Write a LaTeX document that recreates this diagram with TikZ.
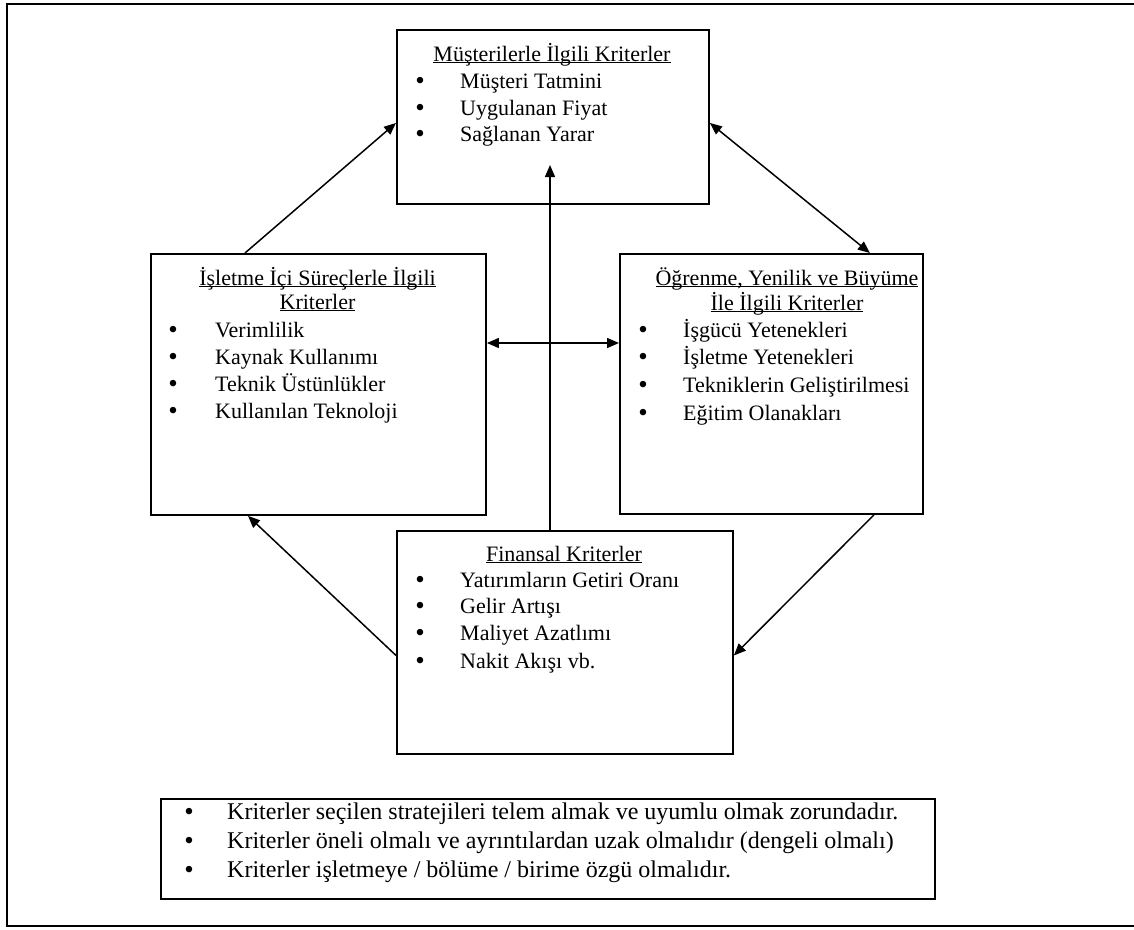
\documentclass[tikz,border=0pt]{standalone}
\usepackage{fontspec}
\setmainfont{Liberation Serif}
\usetikzlibrary{arrows.meta,calc}
\newcommand\myul[1]{\setbox0\hbox{#1}\rlap{\rule[-2.4pt]{\wd0}{1.1pt}}\box0}
\tikzset{
  box/.style={draw, line width=1.9pt, inner sep=0pt, anchor=north west},
  frame/.style={draw, line width=2.4pt},
  arr/.style={line width=1.5pt, -{Triangle[length=12pt,width=10pt]}},
  arrb/.style={line width=1.5pt, {Triangle[length=12pt,width=10pt]}-{Triangle[length=12pt,width=10pt]}},
  txt/.style={anchor=base west, inner sep=0pt, font=\fontsize{22}{26}\selectfont},
  ttl/.style={anchor=base, inner sep=0pt, font=\fontsize{22}{26}\selectfont},
  bul/.style={anchor=base, inner sep=0pt, font=\fontsize{27}{30}\selectfont},
  ntxt/.style={anchor=base west, inner sep=0pt, font=\fontsize{24}{29}\selectfont},
  nbul/.style={anchor=base, inner sep=0pt, font=\fontsize{27}{30}\selectfont}
}
\begin{document}
\begin{tikzpicture}[x=1pt,y=-1pt]
\useasboundingbox (0,0) rectangle (1134,929);
\draw[frame] (1134,4) -- (7,4) -- (7,926) -- (1134,926);

% boxes
\node[box, minimum width=312pt, minimum height=174pt] (mus) at (396,29) {};
\node[box, minimum width=335pt, minimum height=261pt] (lft) at (150,253) {};
\node[box, minimum width=303pt, minimum height=260pt] (rgt) at (619,253) {};
\node[box, minimum width=336pt, minimum height=223pt] (fin) at (396,530) {};
\node[box, minimum width=774pt, minimum height=100pt] (note) at (160,798) {};

% top box text
\node[ttl] (musT) at (552,61) {\myul{Müşterilerle İlgili Kriterler}};
\node[bul] (musB1) at (420,89) {\textbullet};
\node[bul] (musB2) at (420,116) {\textbullet};
\node[bul] (musB3) at (420,142) {\textbullet};
\node[txt] (musI1) at (460,88) {Müşteri Tatmini};
\node[txt] (musI2) at (460,115) {Uygulanan Fiyat};
\node[txt] (musI3) at (460,141) {Sağlanan Yarar};

% left box text
\node[ttl] (lftT1) at (317.5,285) {\myul{İşletme İçi Süreçlerle İlgili}};
\node[ttl] (lftT2) at (317.5,309) {\myul{Kriterler}};
\node[bul] (lftB1) at (173,338) {\textbullet};
\node[bul] (lftB2) at (173,365) {\textbullet};
\node[bul] (lftB3) at (173,392) {\textbullet};
\node[bul] (lftB4) at (173,419) {\textbullet};
\node[txt] (lftI1) at (215,337) {Verimlilik};
\node[txt] (lftI2) at (215,364) {Kaynak Kullanımı};
\node[txt] (lftI3) at (215,391) {Teknik Üstünlükler};
\node[txt] (lftI4) at (215,418) {Kullanılan Teknoloji};

% right box text
\node[ttl] (rgtT1) at (787,285) {\myul{Öğrenme, Yenilik ve Büyüme}};
\node[ttl] (rgtT2) at (787,310) {\myul{İle İlgili Kriterler}};
\node[bul] (rgtB1) at (643,338) {\textbullet};
\node[bul] (rgtB2) at (643,365) {\textbullet};
\node[bul] (rgtB3) at (643,393) {\textbullet};
\node[bul] (rgtB4) at (643,421) {\textbullet};
\node[txt] (rgtI1) at (683,337) {İşgücü Yetenekleri};
\node[txt] (rgtI2) at (683,364) {İşletme Yetenekleri};
\node[txt] (rgtI3) at (683,392) {Tekniklerin Geliştirilmesi};
\node[txt] (rgtI4) at (683,420) {Eğitim Olanakları};

% bottom box text
\node[ttl] (finT) at (564,561) {\myul{Finansal Kriterler}};
\node[bul] (finB1) at (420,588) {\textbullet};
\node[bul] (finB2) at (420,614) {\textbullet};
\node[bul] (finB3) at (420,641) {\textbullet};
\node[bul] (finB4) at (420,669) {\textbullet};
\node[txt] (finI1) at (460,587) {Yatırımların Getiri Oranı};
\node[txt] (finI2) at (460,613) {Gelir Artışı};
\node[txt] (finI3) at (460,640) {Maliyet Azatlımı};
\node[txt] (finI4) at (460,668) {Nakit Akışı vb.};

% note text
\node[nbul] (noteB1) at (189,820) {\textbullet};
\node[nbul] (noteB2) at (189,849) {\textbullet};
\node[nbul] (noteB3) at (189,878) {\textbullet};
\node[ntxt] (noteI1) at (227,819) {Kriterler seçilen stratejileri telem almak ve uyumlu olmak zorundadır.};
\node[ntxt] (noteI2) at (227,848) {Kriterler öneli olmalı ve ayrıntılardan uzak olmalıdır (dengeli olmalı)};
\node[ntxt] (noteI3) at (227,877) {Kriterler işletmeye / bölüme / birime özgü olmalıdır.};

% connectors
\coordinate (vtip) at (550,165);
\coordinate (hmid) at (550,343);
\draw[arr] ([xshift=95pt]lft.north west) -- ([yshift=-6pt]mus.west);
\draw[arrb] ([yshift=-6pt]mus.east) -- ([xshift=-54pt]rgt.north east);
\draw[arr] (fin.north -| vtip) -- (vtip);
\draw[arrb] (lft.east |- hmid) -- (rgt.west |- hmid);
\draw[arr] ([yshift=-13pt]fin.west) -- ([xshift=98pt]lft.south west);
\draw[arr] ([xshift=-50pt]rgt.south east) -- ([yshift=-13pt]fin.east);
\end{tikzpicture}
\end{document}
